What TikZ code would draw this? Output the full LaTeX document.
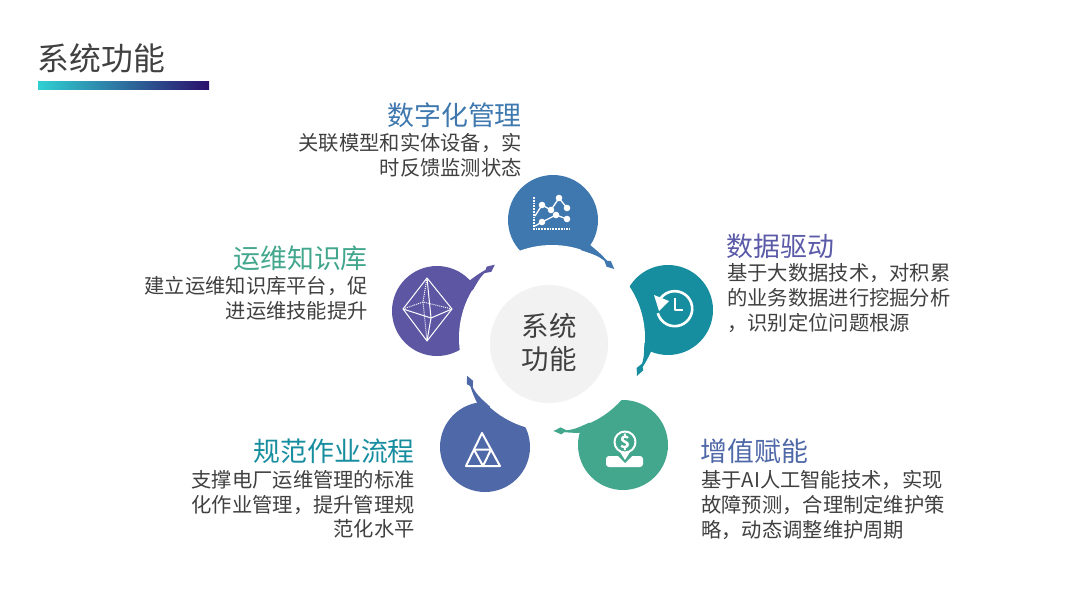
\documentclass[tikz,border=0pt]{standalone}
\usepackage{fontspec}
\setmainfont{Noto Sans CJK SC}
\usepackage{tikz}
\definecolor{blobA}{HTML}{3F78AE}
\definecolor{blobB}{HTML}{178E9F}
\definecolor{blobC}{HTML}{43A78E}
\definecolor{blobD}{HTML}{4F68A8}
\definecolor{blobE}{HTML}{5D57A3}
\definecolor{headB}{HTML}{5A5AA8}
\definecolor{bodytxt}{HTML}{404040}
\definecolor{barL}{HTML}{2FD0D2}
\definecolor{barM}{HTML}{2F6496}
\definecolor{barR}{HTML}{2A0F6B}
\tikzset{
  heading/.style={inner sep=0pt,font=\fontsize{26.9}{30}\selectfont},
  bodyL/.style={inner sep=0pt,align=left,anchor=west,text=bodytxt,font=\fontsize{20.3}{24.6}\selectfont},
  bodyR/.style={inner sep=0pt,align=right,anchor=east,text=bodytxt,font=\fontsize{20.3}{24.6}\selectfont},
  icon/.style={white,line width=1.8pt,line join=round},
  thinicon/.style={white,line width=1pt,line join=round}
}
\begin{document}
\begin{tikzpicture}[x=1pt,y=-1pt]
    \useasboundingbox (0,0) rectangle (1080,608);
    \fill[white] (0,0) rectangle (1080,608);
    % Title and its bar
    \node[inner sep=0pt,anchor=west,text=bodytxt,font=\fontsize{31.8}{34}\selectfont] (title) at (37.5,58) {系统功能};
    \shade[left color=barL,middle color=barM,right color=barR] (38,81) rectangle (209,89);
    % Centres of the five discs
    \coordinate (Ctop) at (553,220);
    \coordinate (Cright) at (668,310);
    \coordinate (Cdown) at (623,445);
    \coordinate (Cleft) at (485,447);
    \coordinate (Cup) at (437,311);
    \coordinate (Ring) at (552,338);
    \foreach \pos/\col in {Ctop/blobA,Cright/blobB,Cdown/blobC,Cleft/blobD,Cup/blobE}
        \fill[\col] (\pos) circle (45);
    % Inner cut and middle disc
    \fill[white] (Ring) circle (93);
    \fill[gray!10] (549,344) circle (59);
    \node[inner sep=0pt,align=center,text=bodytxt,font=\fontsize{27.5}{33}\selectfont] (mid) at (549,343) {系统\\功能};
    % Tails running round the ring
    \begin{scope}[shift={(Ring)}]
        \foreach \angA/\angB/\col in {-72/-48/blobA,3/24/blobB,66/89/blobC,132/156/blobD,211/232/blobE} {
            \pgfmathsetmacro{\angM}{(\angA+\angB)/2}
            \pgfmathsetmacro{\angH}{\angB-4.5}
            \pgfmathsetmacro{\angN}{\angB-8}
            \fill[\col] (\angA:92.5) .. controls (\angM:94.5) .. (\angB:93) .. controls (\angM:97.5) .. (\angA:103) -- cycle;
            \fill[\col] (\angB:93) -- (\angH:96.8) -- (\angN:93.5) -- (\angH:89.8) -- cycle;
        }
    \end{scope}
    % Chart icon
    \draw[white,densely dotted,line width=1.8pt] (534,197) -- (534,229) -- (570,229);
    \draw[thinicon,line width=1.3pt] (542,205) -- (551,210) -- (559,198) -- (567,208);
    \draw[thinicon,line width=1.3pt] (535,216) -- (542,205);
    \draw[thinicon,line width=1.3pt] (535,226) -- (542,222) -- (556,215) -- (567,219);
    \foreach \pos in {(542,205),(551,210),(559,198),(567,208),(542,222),(556,215),(567,219)}
        \fill[white] \pos circle (3.3);
    % Clock icon
    \draw[icon,line width=2.6pt] (659,301) arc[start angle=-154,end angle=165,radius=17.5];
    \fill[white] (654,295) -- (669,301) -- (659,311) -- cycle;
    \draw[icon,line width=2.6pt] (675,298) -- (675,310) -- (683,310);
    % Dollar icon
    \draw[icon,line width=2pt] (625,442) circle (10.5);
    \node[inner sep=0pt,text=white,font=\fontsize{17}{17}\bfseries\selectfont] (dollar) at (625,442) {\$};
    \fill[white,rounded corners=3pt] (606,456) rectangle (643,467);
    \fill[blobC] (618,456) -- (632,456) -- (625,463) -- cycle;
    \fill[white] (620,452) -- (630,452) -- (625,460) -- cycle;
    % Triangle icon
    \draw[icon,line width=2pt] (482,433) -- (466,466) -- (500,466) -- cycle;
    \draw[icon,line width=2pt] (474,449.5) -- (491,449.5) -- (483,466) -- cycle;
    % Octahedron icon
    \coordinate (OT) at (427,278);
    \coordinate (OB) at (427,341);
    \coordinate (OL) at (403,309);
    \coordinate (OR) at (452,309);
    \coordinate (OF) at (431,318);
    \coordinate (OK) at (423,302);
    \draw[thinicon] (OT) -- (OL) -- (OB) -- (OR) -- cycle;
    \draw[thinicon] (OL) -- (OF) -- (OR);
    \draw[thinicon] (OT) -- (OF) -- (OB);
    \draw[thinicon,densely dotted] (OL) -- (OK) -- (OR);
    \draw[thinicon,densely dotted] (OT) -- (OK) -- (OB);
    % Labels
    \node[heading,anchor=east,text=blobA] (headtop) at (522,115) {数字化管理};
    \node[bodyR] (texttop) at (522,155.5) {关联模型和实体设备，实\\时反馈监测状态};
    \node[heading,anchor=west,text=headB] (headright) at (726.5,246) {数据驱动};
    \node[bodyL] (textright) at (727,298) {基于大数据技术，对积累\\的业务数据进行挖掘分析\\，识别定位问题根源};
    \node[heading,anchor=west,text=blobD] (headdown) at (700.5,451) {增值赋能};
    \node[bodyL] (textdown) at (701,505) {基于AI人工智能技术，实现\\故障预测，合理制定维护策\\略，动态调整维护周期};
    \node[heading,anchor=east,text=blobB] (headleft) at (415,451) {规范作业流程};
    \node[bodyR] (textleft) at (415,504.5) {支撑电厂运维管理的标准\\化作业管理，提升管理规\\范化水平};
    \node[heading,anchor=east,text=blobC] (headup) at (368,258) {运维知识库};
    \node[bodyR] (textup) at (368,298.5) {建立运维知识库平台，促\\进运维技能提升};
\end{tikzpicture}
\end{document}
